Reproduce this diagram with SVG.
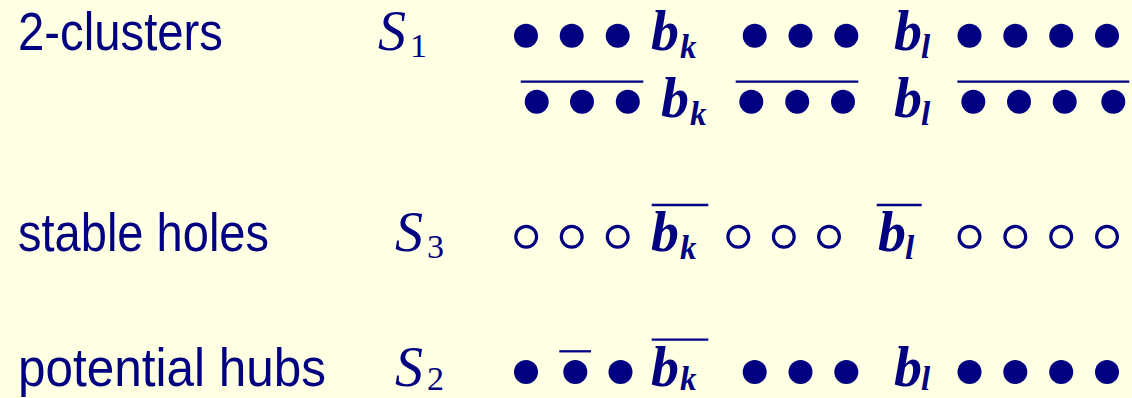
<svg xmlns="http://www.w3.org/2000/svg" width="1132" height="398" viewBox="0 0 1132 398">
<style>
.lbl{font-family:"Liberation Sans",Arial,sans-serif;font-size:53px;fill:#000080}
.S{font-family:"Liberation Serif","Times New Roman",serif;font-style:italic;font-size:56px;fill:#000080}
.sub{font-family:"Liberation Serif","Times New Roman",serif;font-size:34px;fill:#000080}
.b{font-family:"Liberation Serif","Times New Roman",serif;font-style:italic;font-weight:bold;font-size:56px;fill:#000080}
.bs{font-family:"Liberation Serif","Times New Roman",serif;font-style:italic;font-weight:bold;font-size:33px;fill:#000080}
.d{fill:#000080}
.o{fill:none;stroke:#000080;stroke-width:3.2}
.ov{stroke:#000080;stroke-width:2.3}
</style>
<rect width="1132" height="398" fill="#ffffe3"/>

<g id="labels">
<text class="lbl" x="18" y="50" textLength="205" lengthAdjust="spacingAndGlyphs">2-clusters</text>
<text class="lbl" x="18" y="251" textLength="251" lengthAdjust="spacingAndGlyphs">stable holes</text>
<text class="lbl" x="18" y="386" textLength="308" lengthAdjust="spacingAndGlyphs">potential hubs</text>
</g>

<g id="sets">
<text class="S" x="378" y="50">S</text><text class="sub" x="410" y="57">1</text>
<text class="S" x="395" y="251">S</text><text class="sub" x="427" y="258">3</text>
<text class="S" x="395" y="386">S</text><text class="sub" x="427" y="390">2</text>
</g>

<g id="row1">
<circle class="d" cx="526" cy="35.7" r="12"/>
<circle class="d" cx="571.7" cy="35.7" r="12"/>
<circle class="d" cx="617.7" cy="35.7" r="12"/>
<text class="b" x="651" y="50">b</text><text class="bs" x="680" y="58">k</text>
<circle class="d" cx="754.7" cy="35.7" r="12"/>
<circle class="d" cx="800.5" cy="35.7" r="12"/>
<circle class="d" cx="846.3" cy="35.7" r="12"/>
<text class="b" x="894" y="50">b</text><text class="bs" x="921" y="58">l</text>
<circle class="d" cx="969.5" cy="35.7" r="12"/>
<circle class="d" cx="1015.3" cy="35.7" r="12"/>
<circle class="d" cx="1061.2" cy="35.7" r="12"/>
<circle class="d" cx="1107" cy="35.7" r="12"/>
</g>

<g id="row2">
<line class="ov" x1="520.7" y1="81.7" x2="643.3" y2="81.7"/>
<circle class="d" cx="536.7" cy="101.7" r="12"/>
<circle class="d" cx="582" cy="101.7" r="12"/>
<circle class="d" cx="627.8" cy="101.7" r="12"/>
<text class="b" x="661" y="116.5">b</text><text class="bs" x="690" y="124.5">k</text>
<line class="ov" x1="735.7" y1="81.7" x2="858.3" y2="81.7"/>
<circle class="d" cx="751.3" cy="101.7" r="12"/>
<circle class="d" cx="797.2" cy="101.7" r="12"/>
<circle class="d" cx="843" cy="101.7" r="12"/>
<text class="b" x="894" y="116.5">b</text><text class="bs" x="921" y="124.5">l</text>
<line class="ov" x1="957.3" y1="81.7" x2="1129.3" y2="81.7"/>
<circle class="d" cx="973.3" cy="101.7" r="12"/>
<circle class="d" cx="1019" cy="101.7" r="12"/>
<circle class="d" cx="1064.7" cy="101.7" r="12"/>
<circle class="d" cx="1113.3" cy="101.7" r="12"/>
</g>

<g id="row3">
<circle class="o" cx="526.2" cy="236.7" r="10.4"/>
<circle class="o" cx="571.7" cy="236.7" r="10.4"/>
<circle class="o" cx="617.7" cy="236.7" r="10.4"/>
<line class="ov" x1="651.7" y1="205" x2="708.3" y2="205"/>
<text class="b" x="651" y="251">b</text><text class="bs" x="680" y="259">k</text>
<circle class="o" cx="738.3" cy="236.7" r="10.4"/>
<circle class="o" cx="783.8" cy="236.7" r="10.4"/>
<circle class="o" cx="829" cy="236.7" r="10.4"/>
<line class="ov" x1="876.7" y1="205" x2="921.7" y2="205"/>
<text class="b" x="878" y="251">b</text><text class="bs" x="905" y="259">l</text>
<circle class="o" cx="969.5" cy="236.7" r="10.4"/>
<circle class="o" cx="1015.3" cy="236.7" r="10.4"/>
<circle class="o" cx="1061.2" cy="236.7" r="10.4"/>
<circle class="o" cx="1107" cy="236.7" r="10.4"/>
</g>

<g id="row4">
<circle class="d" cx="526" cy="372" r="12"/>
<line class="ov" x1="559.3" y1="351.3" x2="591" y2="351.3"/>
<circle class="d" cx="575.3" cy="372" r="12"/>
<circle class="d" cx="620.5" cy="372" r="12"/>
<line class="ov" x1="651.7" y1="339.7" x2="708.3" y2="339.7"/>
<text class="b" x="651" y="386">b</text><text class="bs" x="680" y="390">k</text>
<circle class="d" cx="754.7" cy="372" r="12"/>
<circle class="d" cx="800.5" cy="372" r="12"/>
<circle class="d" cx="846.3" cy="372" r="12"/>
<text class="b" x="894" y="386">b</text><text class="bs" x="921" y="390">l</text>
<circle class="d" cx="969.5" cy="372" r="12"/>
<circle class="d" cx="1015.3" cy="372" r="12"/>
<circle class="d" cx="1061.2" cy="372" r="12"/>
<circle class="d" cx="1107" cy="372" r="12"/>
</g>
</svg>
